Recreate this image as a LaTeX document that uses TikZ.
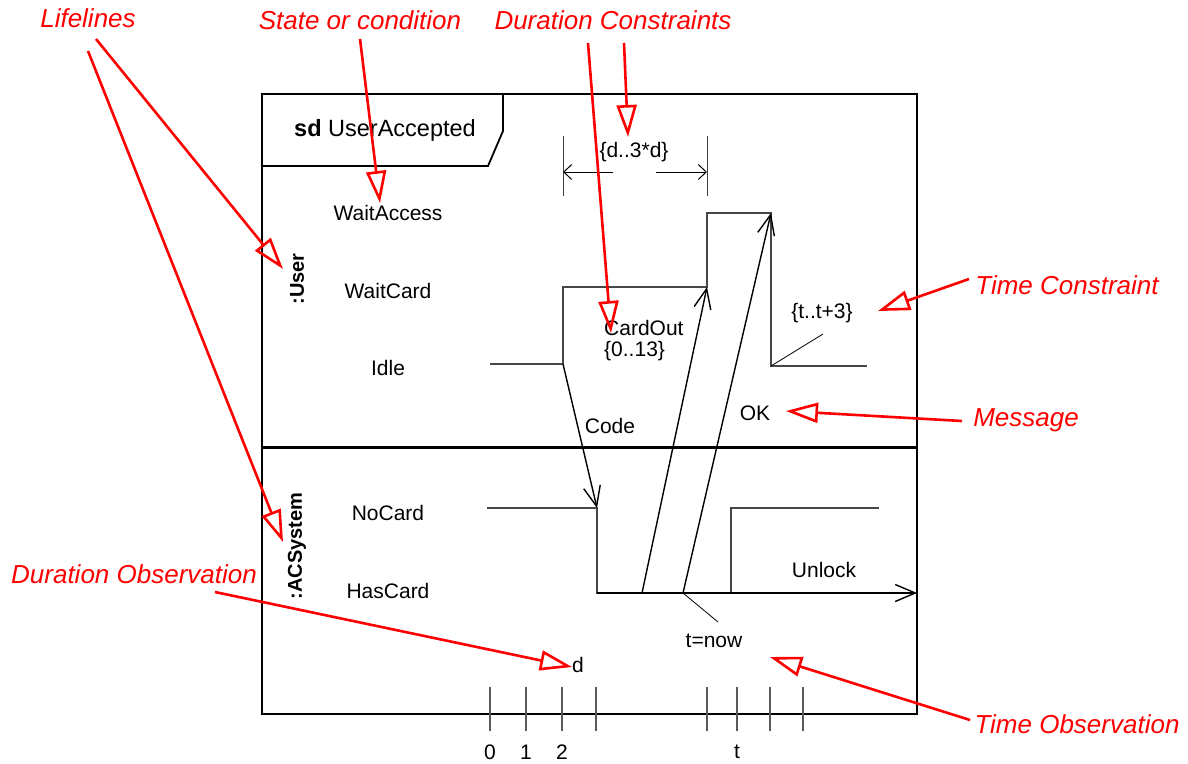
\documentclass[tikz,border=0pt]{standalone}
\usepackage{fontspec}
\setmainfont{Liberation Sans}
\usetikzlibrary{arrows.meta}
\begin{document}
\begin{tikzpicture}[x=1pt,y=-1pt,
  lbl/.style={font=\fontsize{21}{25}\selectfont, inner sep=0pt},
  titlelbl/.style={font=\fontsize{23.5}{28}\selectfont, inner sep=0pt},
  lifelbl/.style={font=\fontsize{20}{24}\selectfont\bfseries, inner sep=0pt, rotate=90},
  ann/.style={font=\fontsize{26}{30}\selectfont\itshape, text=red, inner sep=0pt},
  annarrow/.style={draw=red, line width=2.6pt, -{Triangle[open, length=32pt, width=20pt, line width=2.6pt]}},
  tl/.style={draw=black!72, line width=1.2pt},
  msg/.style={draw=black, line width=1.4pt, -{Straight Barb[length=20pt,width=17pt,line width=1.4pt]}},
  dimarrow/.style={draw=black, line width=1pt, -{Straight Barb[length=8pt,width=15pt,line width=1pt]}},
  tickmark/.style={draw=black!65, line width=1.3pt},
  thin/.style={draw=black, line width=0.8pt}]
\useasboundingbox (0,0) rectangle (1188,763);

% frame
\draw[line width=2pt] (262,94) rectangle (917,714);
\draw[line width=3pt] (262,447) -- (917,447);
\draw[line width=1.8pt] (262,94) -- (503,94) -- (503,131) -- (488,166) -- (262,166);
\node[titlelbl] (title) at (385,130) {\textbf{sd} UserAccepted};

% lifeline labels
\node[lifelbl] (user) at (297,279) {:User};
\node[lifelbl] (acs) at (297,546) {:ACSystem};

% state labels
\node[lbl] (waitaccess) at (388,213) {WaitAccess};
\node[lbl] (waitcard) at (388,291) {WaitCard};
\node[lbl] (idle) at (388,368) {Idle};
\node[lbl] (nocard) at (388,513) {NoCard};
\node[lbl] (hascard) at (388,591) {HasCard};

% user timeline
\coordinate (u1) at (490,364);
\coordinate (u2) at (563,364);
\coordinate (u3) at (563,287);
\coordinate (u4) at (707,287);
\coordinate (u5) at (707,213);
\coordinate (u6) at (771,213);
\coordinate (u7) at (771,366);
\coordinate (u8) at (867,366);
\draw[tl] (u1) -- (u2) -- (u3) -- (u4) -- (u5) -- (u6) -- (u7) -- (u8);

% system timeline
\coordinate (s1) at (487,508);
\coordinate (s2) at (597,508);
\coordinate (s3) at (597,593);
\coordinate (s4) at (731,593);
\coordinate (s5) at (731,508);
\coordinate (s6) at (879,508);
\coordinate (gate) at (917,593);
\draw[tl] (s1) -- (s2) -- (s3) -- (s4) -- (s5) -- (s6);

% messages
\coordinate (cardoutsrc) at (642,593);
\coordinate (oksrc) at (683,593);
\draw[msg] (u2) -- (s2);
\draw[msg] (cardoutsrc) -- (u4);
\draw[msg] (oksrc) -- (u6);
\draw[msg] (s3) -- (gate);

\node[lbl] (code) at (610,426) {Code};
\node[lbl] (ok) at (755,413) {OK};
\node[lbl] (unlock) at (824,570) {Unlock};
\node[lbl, anchor=west] (cardout) at (604,328) {CardOut};
\node[lbl, anchor=west] (range) at (604,351) {\{0..13\}};

% time constraint
\node[lbl] (tc) at (822,313) {\{t..t+3\}};
\coordinate (tcend) at (823,334);
\draw[thin] (u7) -- (tcend);

% time observation
\node[lbl] (tnow) at (714,641) {t=now};
\coordinate (toend) at (718,622);
\draw[thin] (oksrc) -- (toend);

% duration observation
\node[lbl] (d) at (578,665) {d};

% duration constraint
\coordinate (dl1) at (563,136);
\coordinate (dl2) at (563,196);
\coordinate (dr1) at (707,136);
\coordinate (dr2) at (707,196);
\draw[line width=1pt, draw=black!75] (dl1) -- (dl2);
\draw[line width=1pt, draw=black!75] (dr1) -- (dr2);
\coordinate (dla) at (613,172);
\coordinate (dlb) at (563,172);
\coordinate (dra) at (656,172);
\coordinate (drb) at (707,172);
\draw[dimarrow] (dla) -- (dlb);
\draw[dimarrow] (dra) -- (drb);
\node[lbl] (dc) at (634,152) {\{d..3*d\}};

% time axis ticks
\foreach \x/\n in {490/t0,526/t1,562/t2,596/t3,707/t4,737/t5,770/t6,803/t7}
  \draw[tickmark] (\x,687) -- (\x,731);
\node[lbl] (l0) at (490,752) {0};
\node[lbl] (l1) at (526,752) {1};
\node[lbl] (l2) at (562,752) {2};
\node[lbl] (lt) at (737,752) {t};

% annotations
\node[ann] (aLife) at (88,18) {Lifelines};
\node[ann] (aState) at (360,20) {State or condition};
\node[ann] (aDur) at (613,20) {Duration Constraints};
\node[ann] (aTC) at (1067,285) {Time Constraint};
\node[ann] (aMsg) at (1026,420) {Message};
\node[ann] (aDO) at (134,574) {Duration Observation};
\node[ann] (aTO) at (1077,724) {Time Observation};

\coordinate (lifeA) at (96,39);
\coordinate (lifeB) at (88,51);
\coordinate (lifeAt) at (283,269);
\coordinate (lifeBt) at (283,542);
\draw[annarrow] (lifeA) -- (lifeAt);
\draw[annarrow] (lifeB) -- (lifeBt);

\coordinate (stS) at (360,39);
\coordinate (stT) at (380,203);
\draw[annarrow] (stS) -- (stT);

\coordinate (duS1) at (588,43);
\coordinate (duT1) at (611,333);
\coordinate (duS2) at (624,43);
\coordinate (duT2) at (628,137);
\draw[annarrow] (duS1) -- (duT1);
\draw[annarrow] (duS2) -- (duT2);

\coordinate (tcS) at (969,279);
\coordinate (tcT) at (878,311);
\draw[annarrow] (tcS) -- (tcT);

\coordinate (msS) at (962,421);
\coordinate (msT) at (786,411);
\draw[annarrow] (msS) -- (msT);

\coordinate (doS) at (215,592);
\coordinate (doT) at (572,667);
\draw[annarrow] (doS) -- (doT);

\coordinate (toS) at (970,720);
\coordinate (toT) at (770,657);
\draw[annarrow] (toS) -- (toT);
\end{tikzpicture}
\end{document}
